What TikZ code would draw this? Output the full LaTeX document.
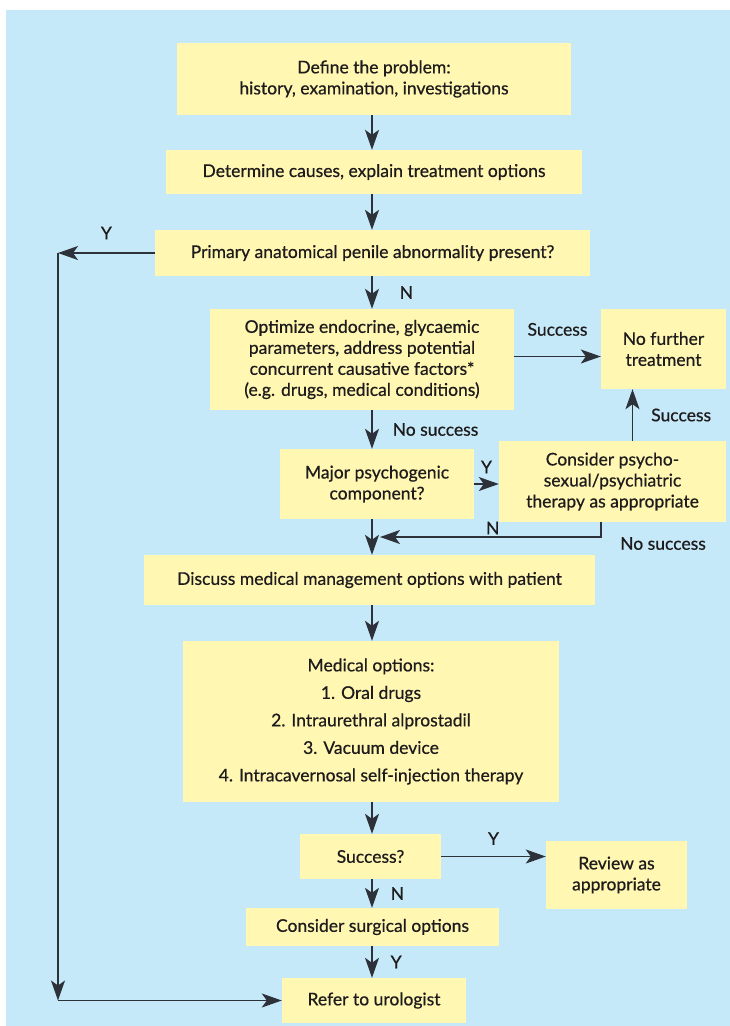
\documentclass[tikz,border=0pt]{standalone}
\usepackage{fontspec}
\setmainfont{Lato}[RawFeature={embolden=0.6}]
\usetikzlibrary{arrows.meta}
\usetikzlibrary{calc}

\definecolor{bgblue}{RGB}{198,233,249}
\definecolor{boxyellow}{RGB}{255,247,178}
\definecolor{inkgrey}{RGB}{30,27,28}
\definecolor{linegrey}{RGB}{45,50,58}

\tikzset{
  stage/.style={fill=boxyellow, text=inkgrey, align=center, inner sep=0pt,
    font=\fontsize{17.5}{21}\selectfont},
  lbl/.style={text=inkgrey, inner sep=1pt, font=\fontsize{17.5}{21}\selectfont},
  flow/.style={-{Stealth[length=20pt,width=14pt,inset=5pt]}, color=linegrey,
    line width=1.4pt},
}

\begin{document}
\begin{tikzpicture}[x=1pt, y=-1pt]
\useasboundingbox (0,0) rectangle (730,1026);
\fill[bgblue] (6,10) rectangle (730,1026);

% main column
\node[stage, minimum width=394pt, minimum height=72pt] (define) at (374,79)
  {Define the problem:\\history, examination, investigations};
\node[stage, minimum width=416pt, minimum height=44pt] (causes) at (374,172)
  {Determine causes, explain treatment options};
\node[stage, minimum width=435pt, minimum height=46pt] (primary) at (372.5,253)
  {Primary anatomical penile abnormality present?};
\node[stage, minimum width=304pt, minimum height=101pt] (optimize) at (362,359.5)
  {Optimize endocrine, glycaemic\\parameters, address potential\\concurrent causative factors*\\(e.g. drugs, medical conditions)};
\node[stage, minimum width=125pt, minimum height=80pt] (nofurther) at (663.5,349)
  {No further\\treatment};
\node[stage, minimum width=194pt, minimum height=70pt] (major) at (377,484)
  {Major psychogenic\\component?};
\node[stage, minimum width=227pt, minimum height=81pt] (consider) at (612.5,481.5)
  {Consider psycho-\\sexual/psychiatric\\therapy as appropriate};
\node[stage, minimum width=451pt, minimum height=50pt] (discuss) at (369.5,580)
  {Discuss medical management options with patient};
\node[stage, minimum width=376pt, minimum height=161pt,
  font=\fontsize{17.5}{27.5}\selectfont] (medical) at (371,721.5)
  {Medical options:\\1. Oral drugs\\2. Intraurethral alprostadil\\3. Vacuum device\\4. Intracavernosal self-injection therapy};
\node[stage, minimum width=141pt, minimum height=45pt] (success) at (370.5,856.5)
  {Success?};
\node[stage, minimum width=141pt, minimum height=68pt] (review) at (616.5,875)
  {Review as\\appropriate};
\node[stage, minimum width=253pt, minimum height=38pt] (surgical) at (372.5,927)
  {Consider surgical options};
\node[stage, minimum width=184pt, minimum height=45pt] (refer) at (374,1000.5)
  {Refer to urologist};

\coordinate (spine) at (372,0);
\coordinate (rail) at (58,0);
\coordinate (turn) at (601,537);
\coordinate (rejoin) at (380,537);

% arrows down the spine
\path[flow]
(spine |- define.south) edge (spine |- causes.north)
(spine |- causes.south) edge (spine |- primary.north)
(spine |- primary.south) edge node[lbl, right=26pt] (nlbl1) {N} (spine |- optimize.north)
(spine |- optimize.south) edge node[lbl, right=19pt] (nosucc1) {No success} (spine |- major.north)
(spine |- major.south) edge (spine |- discuss.north)
(spine |- discuss.south) edge (spine |- medical.north)
(spine |- medical.south) edge (spine |- success.north)
(spine |- success.south) edge node[lbl, right=17pt] (nlbl2) {N} (spine |- surgical.north)
(spine |- surgical.south) edge node[lbl, right=17pt] (ylbl4) {Y} (spine |- refer.north)
;

% side branches
\path[flow]
(primary.west) edge node[lbl, above=12pt] (ylbl1) {Y} (primary.west -| rail)
(primary.west -| rail) edge (rail |- refer.west)
(rail |- refer.west) edge (refer.west)
($(optimize.east)+(0,-3)$) edge node[lbl, above=19pt] (succ1) {Success} ($(optimize.east -| nofurther.west)+(0,-3)$)
(major.east) edge node[lbl, above=9pt] (ylbl2) {Y} (major.east -| consider.west)
($(consider.north)+(20,0)$) edge node[lbl, right=17pt] (succ2) {Success} ($(consider.north |- nofurther.south)+(20,0)$)
(success.east) edge node[lbl, above=10pt] (ylbl3) {Y} (success.east -| review.west)
;
\draw[flow] (consider.south -| turn) -- (turn) -- node[lbl, above=1pt, pos=0.49] (nlbl3) {N} (rejoin);
\node[lbl, anchor=north west] (nosucc2) at ($(turn)+(18,-1)$) {No success};
\end{tikzpicture}
\end{document}
